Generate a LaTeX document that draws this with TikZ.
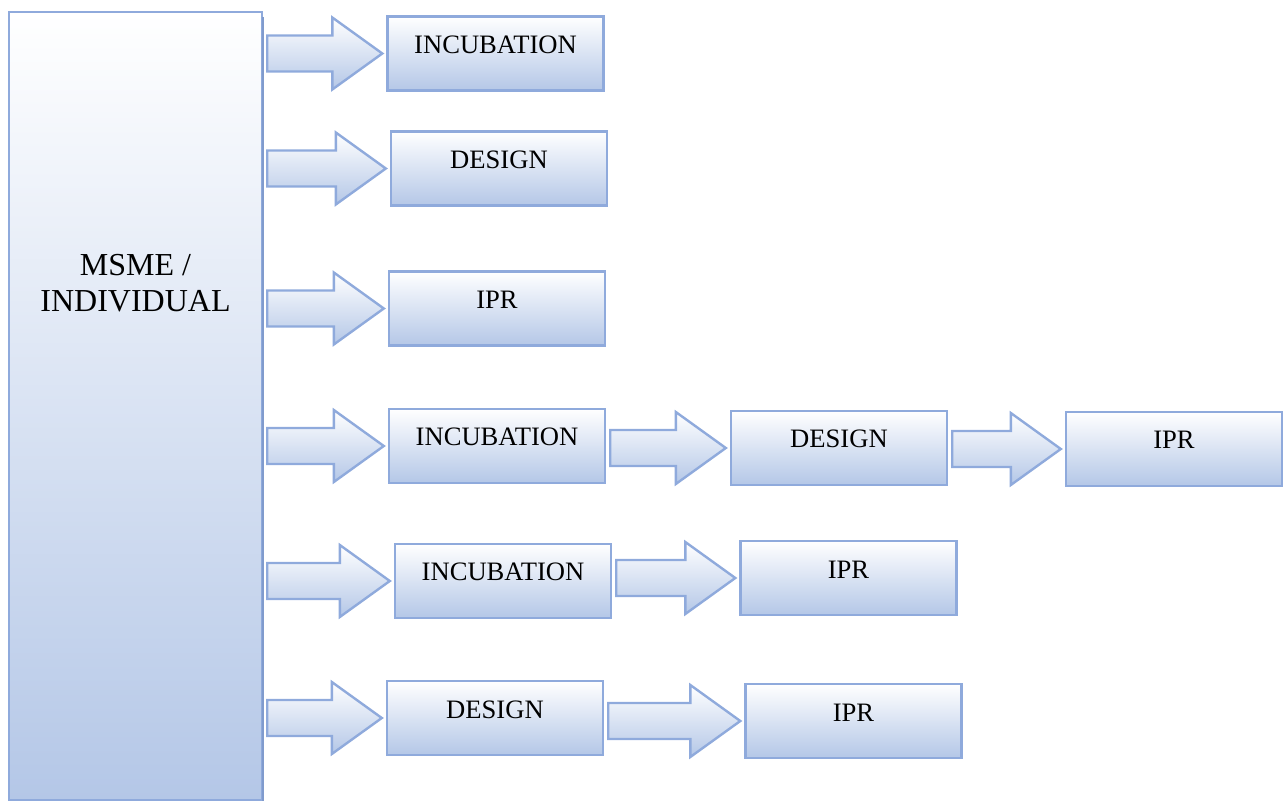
\documentclass[tikz,border=0pt]{standalone}
\usepackage{fontspec}
\setmainfont{Liberation Serif}
\usetikzlibrary{calc}
\definecolor{msmeblue}{RGB}{143,170,220}
\definecolor{msmefill}{RGB}{180,199,231}
\definecolor{msmeshade}{RGB}{128,155,205}
\newcommand{\flowarrow}[2]{%
  \draw[fatarrow] let \p1=(#1.east), \p2=(#2.west) in
    ({\x1+2pt},{\y2+9pt}) -- ({\x2-27pt},{\y2+9pt}) -- ({\x2-27pt},{\y2+18pt}) -- ({\x2-2pt},{\y2})
    -- ({\x2-27pt},{\y2-18pt}) -- ({\x2-27pt},{\y2-9pt}) -- ({\x1+2pt},{\y2-9pt}) -- cycle;}

\begin{document}
\begin{tikzpicture}[x=0.5pt,y=-0.5pt,
  stagebox/.style={draw=msmeblue,line width=1.2pt,top color=white,bottom color=msmefill,
    minimum width=108pt,minimum height=37pt,inner sep=0pt,
    font=\fontsize{13.3}{15}\selectfont,text height=9pt,text depth=9pt},
  fatarrow/.style={draw=msmeblue,line width=1.2pt,line join=miter,top color=white,bottom color=msmefill}]
\useasboundingbox (0,0) rectangle (1284,801);
% MSME / individual and the routes it can take
\node[draw=msmeblue,line width=1.2pt,top color=white,bottom color=msmefill,minimum width=126.5pt,minimum height=394pt] (msme) at (135.5,406) {};
\draw[msmeshade,line width=1pt] ($(msme.north east)+(0pt,-3pt)$) -- (msme.south east);
\node[font=\fontsize{16}{18}\selectfont,align=center] (msmetext) at (135.5,283) {MSME /\\INDIVIDUAL};

\node[stagebox] (inca) at (495.5,53.5) {INCUBATION};
\node[stagebox] (desb) at (499,168.5) {DESIGN};
\node[stagebox] (iprc) at (497,308.5) {IPR};
\node[stagebox] (incd) at (497,446) {INCUBATION};
\node[stagebox] (desd) at (839,448) {DESIGN};
\node[stagebox] (iprd) at (1174,449) {IPR};
\node[stagebox] (ince) at (503,581) {INCUBATION};
\node[stagebox] (ipre) at (848.5,578) {IPR};
\node[stagebox] (desf) at (495,718) {DESIGN};
\node[stagebox] (iprf) at (853.5,721) {IPR};

\flowarrow{msme}{inca}
\flowarrow{msme}{desb}
\flowarrow{msme}{iprc}
\flowarrow{msme}{incd}
\flowarrow{incd}{desd}
\flowarrow{desd}{iprd}
\flowarrow{msme}{ince}
\flowarrow{ince}{ipre}
\flowarrow{msme}{desf}
\flowarrow{desf}{iprf}
\end{tikzpicture}
\end{document}
